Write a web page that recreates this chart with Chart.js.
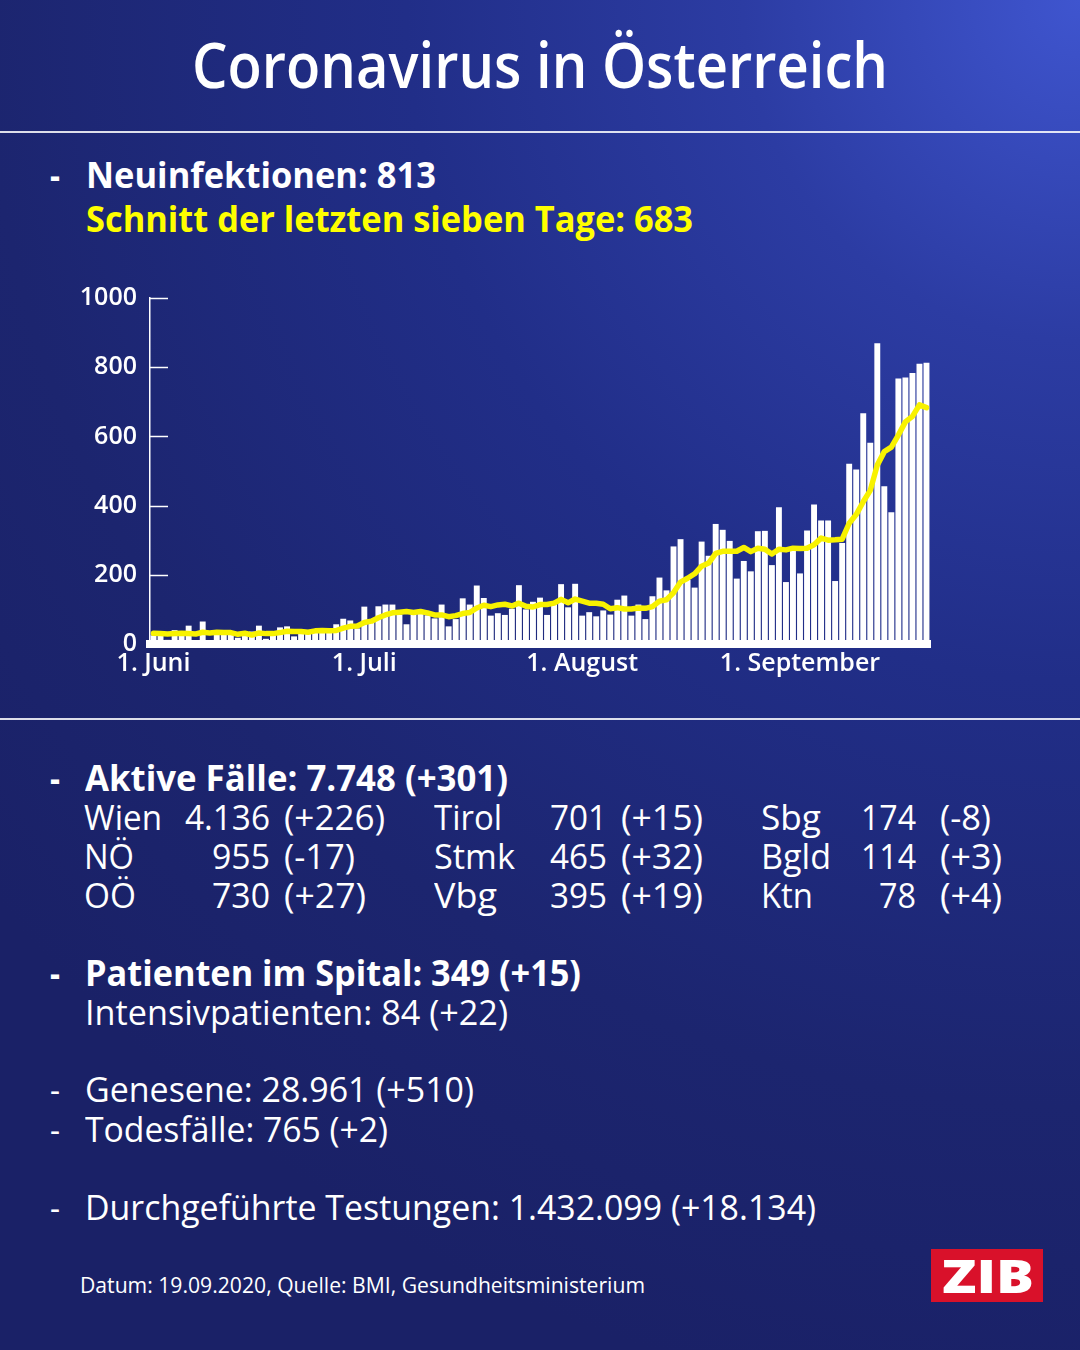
<!DOCTYPE html>
<html lang="de">
<head>
<meta charset="utf-8">
<title>Coronavirus in Österreich</title>
<script src="https://cdn.jsdelivr.net/npm/chart.js@4.4.1/dist/chart.umd.min.js"></script>
<style>
  html, body { margin: 0; padding: 0; }
  body {
    width: 1080px; height: 1350px; overflow: hidden; position: relative;
    font-family: "Open Sans", "DejaVu Sans", sans-serif; color: #fff;
    background: radial-gradient(ellipse 130% 105% at 100% 0%, #3f55cf 0%, #2c3ca3 24%, #212e88 48%, #1c256f 78%, #1a2167 100%);
  }
  .t { position: absolute; white-space: nowrap; line-height: 1; transform-origin: 0 50%; }
  .b { font-weight: 700; }
  .sb { font-weight: 600; }
  .y { color: #ffff00; }
  .hr { position: absolute; left: 0; width: 1080px; height: 1.5px; background: rgba(255,255,255,0.85); }
  #chartBox { position: absolute; left: 0; top: 270px; width: 1080px; height: 424px; }
  #zib { position: absolute; left: 931px; top: 1249px; width: 112px; height: 53px; background: #d9112a; }
  #zib .t { font-weight: 800; }
</style>
</head>
<body>
  <div class="t sb" data-x="192" data-r="888" data-y="66" data-f="64">Coronavirus in Österreich</div>
  <div class="hr" style="top:131px"></div>

  <div class="t b" data-x="50" data-r="60" data-y="176" data-f="36">-</div>
  <div class="t b" data-x="86" data-r="436" data-y="176" data-f="36">Neuinfektionen: 813</div>
  <div class="t b y" data-x="86" data-r="693" data-y="220" data-f="36">Schnitt der letzten sieben Tage: 683</div>

  <div id="chartBox"><canvas id="chart"></canvas></div>

  <div class="hr" style="top:718px"></div>

  <div class="t b" data-x="50" data-r="60" data-y="779" data-f="36">-</div>
  <div class="t b" data-x="85" data-r="508" data-y="779" data-f="36">Aktive Fälle: 7.748 (+301)</div>

  <div class="t" data-x="84" data-r="162" data-y="818" data-f="34">Wien</div>
  <div class="t" data-x="185" data-r="270" data-y="818" data-f="34">4.136</div>
  <div class="t" data-x="284" data-r="385" data-y="818" data-f="34">(+226)</div>
  <div class="t" data-x="434" data-r="502" data-y="818" data-f="34">Tirol</div>
  <div class="t" data-x="550" data-r="607" data-y="818" data-f="34">701</div>
  <div class="t" data-x="621" data-r="703" data-y="818" data-f="34">(+15)</div>
  <div class="t" data-x="761" data-r="821" data-y="818" data-f="34">Sbg</div>
  <div class="t" data-x="861" data-r="916" data-y="818" data-f="34">174</div>
  <div class="t" data-x="940" data-r="991" data-y="818" data-f="34">(-8)</div>

  <div class="t" data-x="84" data-r="134" data-y="857" data-f="34">NÖ</div>
  <div class="t" data-x="212" data-r="270" data-y="857" data-f="34">955</div>
  <div class="t" data-x="284" data-r="355" data-y="857" data-f="34">(-17)</div>
  <div class="t" data-x="434" data-r="515" data-y="857" data-f="34">Stmk</div>
  <div class="t" data-x="550" data-r="607" data-y="857" data-f="34">465</div>
  <div class="t" data-x="621" data-r="703" data-y="857" data-f="34">(+32)</div>
  <div class="t" data-x="761" data-r="831" data-y="857" data-f="34">Bgld</div>
  <div class="t" data-x="861" data-r="916" data-y="857" data-f="34">114</div>
  <div class="t" data-x="940" data-r="1002" data-y="857" data-f="34">(+3)</div>

  <div class="t" data-x="84" data-r="136" data-y="896" data-f="34">OÖ</div>
  <div class="t" data-x="212" data-r="270" data-y="896" data-f="34">730</div>
  <div class="t" data-x="284" data-r="366" data-y="896" data-f="34">(+27)</div>
  <div class="t" data-x="434" data-r="497" data-y="896" data-f="34">Vbg</div>
  <div class="t" data-x="550" data-r="607" data-y="896" data-f="34">395</div>
  <div class="t" data-x="621" data-r="703" data-y="896" data-f="34">(+19)</div>
  <div class="t" data-x="761" data-r="813" data-y="896" data-f="34">Ktn</div>
  <div class="t" data-x="879" data-r="916" data-y="896" data-f="34">78</div>
  <div class="t" data-x="940" data-r="1002" data-y="896" data-f="34">(+4)</div>

  <div class="t b" data-x="50" data-r="60" data-y="974" data-f="36">-</div>
  <div class="t b" data-x="85" data-r="581" data-y="974" data-f="36">Patienten im Spital: 349 (+15)</div>
  <div class="t" data-x="85" data-r="508" data-y="1013" data-f="34">Intensivpatienten: 84 (+22)</div>

  <div class="t" data-x="50" data-r="60" data-y="1090" data-f="34">-</div>
  <div class="t" data-x="85" data-r="474" data-y="1090" data-f="34">Genesene: 28.961 (+510)</div>
  <div class="t" data-x="50" data-r="60" data-y="1130" data-f="34">-</div>
  <div class="t" data-x="85" data-r="388" data-y="1130" data-f="34">Todesfälle: 765 (+2)</div>

  <div class="t" data-x="50" data-r="60" data-y="1208" data-f="34">-</div>
  <div class="t" data-x="85" data-r="816" data-y="1208" data-f="34">Durchgeführte Testungen: 1.432.099 (+18.134)</div>

  <div class="t" data-x="80" data-r="645" data-y="1286" data-f="21">Datum: 19.09.2020, Quelle: BMI, Gesundheitsministerium</div>

  <div id="zib"><div class="t" data-x="11" data-r="103" data-y="27" data-f="46">ZIB</div></div>

<script>
// Neuinfektionen pro Tag, 1. Juni – 19. September 2020
const newCases = [
  25, 30, 12, 40, 33, 53, 8, 65, 11, 30, 32, 30, 18, 28, 36, 53, 15, 30, 48, 51, 22, 35, 38, 40, 38, 43, 57, 73, 68, 45,
  108, 70, 109, 114, 114, 85, 57, 87, 90, 83, 74, 114, 51, 72, 132, 114, 169, 133, 82, 89, 84, 102, 170, 100, 122, 134, 84, 117, 173, 106, 174,
  82, 92, 80, 97, 85, 128, 140, 82, 114, 72, 138, 192, 155, 282, 303, 185, 163, 296, 255, 347, 330, 298, 189, 240, 210, 326, 327, 228, 395, 179, 275,
  204, 328, 403, 357, 357, 182, 292, 521, 504, 667, 582, 869, 456, 381, 767, 770, 783, 810, 813
];
// Schnitt der letzten sieben Tage
const avg7 = [
  31, 30, 29, 30, 31, 30, 29, 34, 32, 34, 33, 33, 28, 31, 26, 32, 30, 30, 33, 37, 36, 36, 34, 38, 39, 38, 39, 46, 51, 52,
  62, 66, 76, 84, 90, 92, 94, 91, 94, 90, 84, 84, 79, 82, 88, 91, 104, 112, 108, 113, 115, 110, 118, 109, 107, 114, 114, 118, 129, 119, 130,
  124, 118, 118, 115, 102, 105, 101, 101, 104, 103, 108, 124, 128, 148, 179, 190, 203, 225, 234, 262, 268, 268, 268, 279, 267, 277, 274, 260, 274, 272, 277,
  276, 277, 287, 306, 300, 301, 303, 349, 374, 411, 444, 517, 556, 569, 604, 642, 658, 691, 683
];
const tickIdx = [0, 30, 61, 92];
const tickText = ['1. Juni', '1. Juli', '1. August', '1. September'];
const yTicks = [0, 200, 400, 600, 800, 1000];

const days = newCases.map((v, i) => {
  const d = new Date(2020, 5, 1 + i);
  return d.getDate() + '.' + (d.getMonth() + 1) + '.2020';
});

function placeText() {
  document.querySelectorAll('.t').forEach(el => {
    const f = +el.dataset.f, x0 = +el.dataset.x, x1 = +el.dataset.r, cy = +el.dataset.y;
    el.style.fontSize = f + 'px';
    el.style.left = x0 + 'px';
    el.style.top = (cy - 0.53 * f) + 'px';
    const w = el.getBoundingClientRect().width;
    if (w > 0) el.style.transform = 'scaleX(' + ((x1 - x0) / w) + ')';
  });
}

// kurze Striche rechts der y-Achse
const innerTicks = {
  id: 'innerTicks',
  afterDatasetsDraw(c) {
    const ys = c.scales.y, ctx = c.ctx, left = c.chartArea.left;
    ctx.save();
    ctx.strokeStyle = '#ffffff'; ctx.lineWidth = 1.5;
    yTicks.forEach(v => {
      if (v === 0) return;
      const py = Math.round(ys.getPixelForValue(v)) + 0.5;
      ctx.beginPath(); ctx.moveTo(left, py); ctx.lineTo(left + 18, py); ctx.stroke();
    });
    ctx.restore();
  }
};

function drawChart() {
  new Chart(document.getElementById('chart'), {
    data: {
      labels: days,
      datasets: [
        { type: 'line', data: avg7, borderColor: '#f8f200', borderWidth: 5.5, pointRadius: 0,
          tension: 0, borderJoinStyle: 'round', borderCapStyle: 'round', order: 0 },
        { type: 'bar', data: newCases, backgroundColor: '#ffffff', barPercentage: 0.84,
          categoryPercentage: 1, order: 1 }
      ]
    },
    options: {
      responsive: true, maintainAspectRatio: false, animation: false,
      layout: { padding: { top: 8, right: 150, left: 0, bottom: 0 } },
      plugins: { legend: { display: false }, tooltip: { enabled: false } },
      scales: {
        x: {
          grid: { display: false, drawTicks: false },
          border: { display: true, color: '#ffffff', width: 8 },
          afterFit: (s) => { s.height = 50; },
          ticks: {
            autoSkip: false, maxRotation: 0, minRotation: 0, padding: 5, color: '#ffffff',
            font: { family: 'Open Sans', size: 25, weight: '600' },
            callback: (v, i) => { const k = tickIdx.indexOf(i); return k >= 0 ? tickText[k] : ''; }
          }
        },
        y: {
          min: 0, max: 1000,
          grid: { display: false, drawTicks: false },
          border: { display: true, color: '#ffffff', width: 1.5 },
          afterFit: (s) => { s.width = 150; },
          afterBuildTicks: (s) => { s.ticks = yTicks.map(v => ({ value: v })); },
          ticks: {
            padding: 13, color: '#ffffff', font: { family: 'Open Sans', size: 25, weight: '600' },
            callback: (v) => String(v)
          }
        }
      }
    },
    plugins: [innerTicks]
  });
}

document.fonts.ready.then(() => { placeText(); drawChart(); });
</script>
</body>
</html>
